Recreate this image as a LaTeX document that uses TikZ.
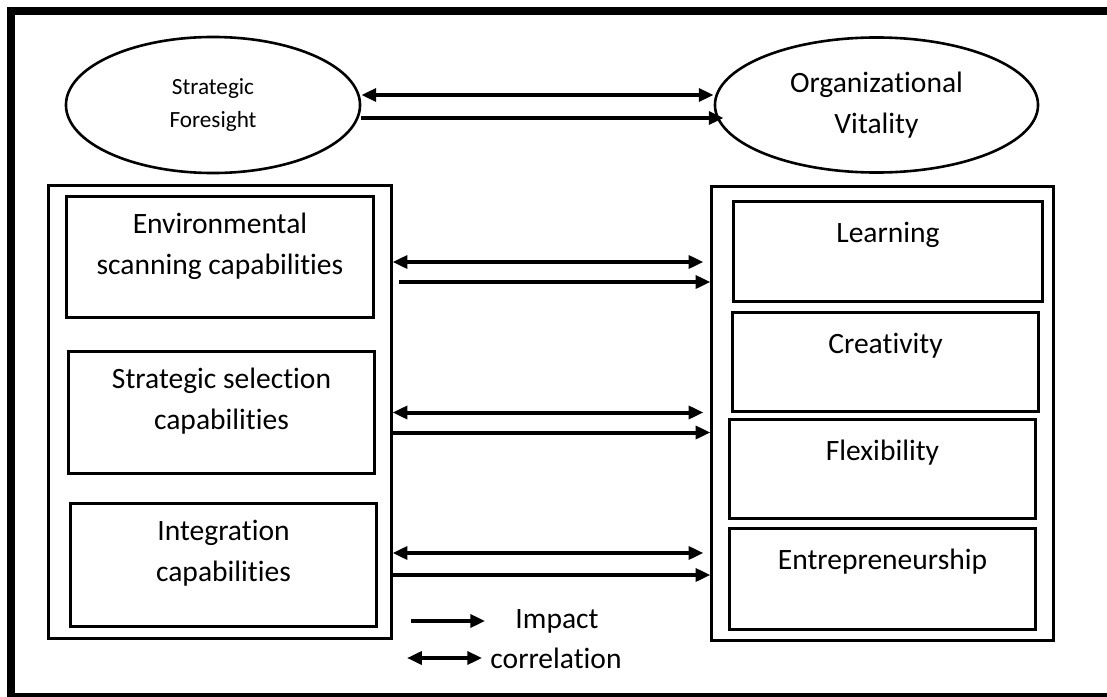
\documentclass[tikz,border=0pt]{standalone}
\usepackage{fontspec}
\setmainfont{Carlito}[Ligatures=NoCommon]
\usetikzlibrary{shapes.geometric,arrows.meta}

\tikzset{
    frame/.style={line width=0.2cm},
    group box/.style={rectangle,draw,line width=0.075cm,minimum width=8.55cm,minimum height=11.3cm},
    cap box/.style={rectangle,draw,line width=0.075cm,inner sep=0,minimum width=7.67cm},
    var node/.style={ellipse,draw,line width=0.065cm,inner sep=0,align=center},
    one line/.style={anchor=center,align=center,inner sep=0,yshift=-0.85cm},
    two lines/.style={anchor=center,align=center,inner sep=0,yshift=-1.26cm},
    impact/.style={-{Triangle[length=0.37cm,width=0.32cm]},line width=0.1cm},
    corr/.style={{Triangle[length=0.37cm,width=0.32cm]}-{Triangle[length=0.37cm,width=0.32cm]},line width=0.1cm}
    }

\begin{document}
\begin{tikzpicture}[x=0.025cm,y=-0.025cm,font=\fontsize{21}{29}\selectfont]
    \clip (0,0) rectangle (1107,697);
    \draw[frame] (11,11) rectangle (1112,697);

    % the two variables
    \node(sf)[var node,minimum width=7.35cm,minimum height=3.4cm,font=\fontsize{16.5}{23.5}\selectfont] at (213,105){Strategic\\Foresight};
    \node(ov)[var node,minimum width=8.075cm,minimum height=3.375cm] at (876.5,105){Organizational\\Vitality};

    % dimensions of strategic foresight
    \node(left)[group box] at (220,412){};
    \node(env)[cap box,minimum height=3cm,label={[two lines]north:Environmental\\scanning capabilities}] at (220,257){};
    \node(sel)[cap box,minimum height=3.025cm,label={[two lines]north:Strategic selection\\capabilities}] at (221.5,412.5){};
    \node(integ)[cap box,minimum height=3.05cm,label={[two lines]north:Integration\\capabilities}] at (223.5,565){};

    % dimensions of organizational vitality
    \node(right)[group box,minimum width=8.525cm,minimum height=11.325cm] at (882.5,413.5){};
    \node(learn)[cap box,minimum width=7.7cm,minimum height=2.475cm,label={[one line]north:Learning}] at (888,251.5){};
    \node(creat)[cap box,minimum height=2.45cm,label={[one line]north:Creativity}] at (885.5,362){};
    \node(flex)[cap box,minimum height=2.45cm,label={[one line]north:Flexibility}] at (882.5,469){};
    \node(entre)[cap box,minimum height=2.5cm,label={[one line]north:Entrepreneurship}] at (882.5,579){};

    % relations
    \draw[corr] ([yshift=0.25cm]sf.east) -- ([yshift=0.25cm]ov.west);
    \draw[impact] ([yshift=-0.325cm]sf.east) -- ([xshift=0.25cm,yshift=-0.325cm]ov.west);

    \draw[corr] ([yshift=-0.125cm]env.east -| left.east) -- ([xshift=-0.175cm,yshift=-0.125cm]env.east -| right.west);
    \draw[impact] ([xshift=0.15cm,yshift=-0.625cm]env.east -| left.east) -- ([yshift=-0.625cm]env.east -| right.west);
    \draw[corr] (sel.east -| left.east) -- ([xshift=-0.175cm]sel.east -| right.west);
    \draw[impact] ([yshift=-0.5cm]sel.east -| left.east) -- ([yshift=-0.5cm]sel.east -| right.west);
    \draw[corr] ([yshift=0.3cm]integ.east -| left.east) -- ([xshift=-0.175cm,yshift=0.3cm]integ.east -| right.west);
    \draw[impact] ([yshift=-0.25cm]integ.east -| left.east) -- ([yshift=-0.25cm]integ.east -| right.west);

    % legend
    \node(imp)[inner sep=0] at (557,621){Impact};
    \node(cor)[inner sep=0] at (556,658){correlation};
    \coordinate(imp start) at (411,621);
    \coordinate(cor start) at (407,658);
    \draw[impact] (imp start) -- ([xshift=-0.75cm]imp.west);
    \draw[corr] (cor start) -- ([xshift=-0.2cm]cor.west);
\end{tikzpicture}
\end{document}
